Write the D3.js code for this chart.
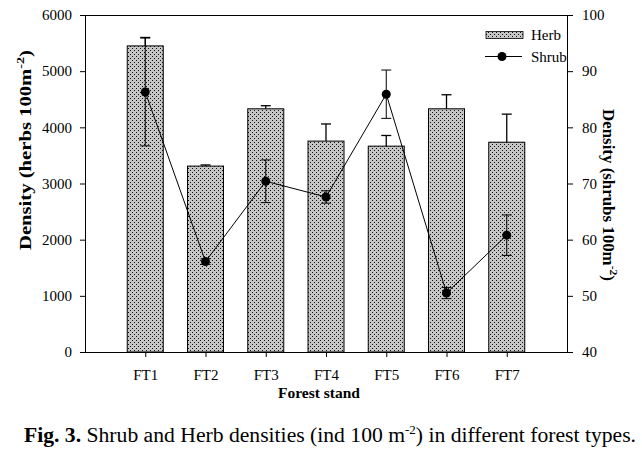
<!DOCTYPE html>
<html>
<head>
<meta charset="utf-8">
<script src="https://cdn.jsdelivr.net/npm/d3@7"></script>
<style>
  body { margin: 0; background: #fff; }
  svg { display: block; font-family: "Liberation Serif", "Times New Roman", serif; }
</style>
</head>
<body>
<svg id="chart" width="642" height="453"></svg>
<script>
// values
var stands = ["FT1", "FT2", "FT3", "FT4", "FT5", "FT6", "FT7"];
var herb = [5450, 3310, 4330, 3755, 3665, 4330, 3735];
var herbErr = [150, 20, 55, 305, 190, 250, 500];
var shrub = [86.3, 56.1, 70.4, 67.6, 85.9, 50.5, 60.8];
var shrubErr = [9.6, 0.5, 3.8, 1.1, 4.3, 1.0, 3.6];
var herbTicks = [0, 1000, 2000, 3000, 4000, 5000, 6000];
var shrubTicks = [40, 50, 60, 70, 80, 90, 100];

var data = stands.map(function (s, i) {
  return { stand: s, herb: herb[i], herbErr: herbErr[i], shrub: shrub[i], shrubErr: shrubErr[i] };
});

// plot box
var pL = 85, pR = 567, pT = 15, pB = 352;

var svg = d3.select("#chart");

var defs = svg.append("defs");
var pat = defs.append("pattern")
  .attr("id", "dots")
  .attr("patternUnits", "userSpaceOnUse")
  .attr("width", 4).attr("height", 4);
pat.append("rect").attr("width", 4).attr("height", 4).attr("fill", "#c6c6c6");
pat.append("rect").attr("x", 0).attr("y", 0).attr("width", 1).attr("height", 1).attr("fill", "#111");
pat.append("rect").attr("x", 2).attr("y", 2).attr("width", 1).attr("height", 1).attr("fill", "#111");

defs.append("clipPath").attr("id", "plotClip")
  .append("rect").attr("x", pL).attr("y", pT).attr("width", pR - pL).attr("height", pB - pT);

var x = d3.scalePoint().domain(stands).range([pL, pR]).padding(1);
var yHerb = d3.scaleLinear().domain([0, 6000]).range([pB, pT]);
var yShrub = d3.scaleLinear().domain([40, 100]).range([pB, pT]);
var barW = 36, capW = 10;

// herb error bars (upward only)
var herbErrG = svg.append("g").attr("stroke", "#000").attr("stroke-width", 1.3);
data.forEach(function (d) {
  var cx = x(d.stand), yt = yHerb(d.herb + d.herbErr);
  herbErrG.append("line").attr("x1", cx).attr("x2", cx).attr("y1", yHerb(d.herb)).attr("y2", yt);
  herbErrG.append("line").attr("x1", cx - capW / 2).attr("x2", cx + capW / 2).attr("y1", yt).attr("y2", yt);
});

// bars
svg.append("g").selectAll("rect").data(data).join("rect")
  .attr("x", function (d) { return x(d.stand) - barW / 2; })
  .attr("y", function (d) { return yHerb(d.herb); })
  .attr("width", barW)
  .attr("height", function (d) { return yHerb(0) - yHerb(d.herb); })
  .attr("fill", "url(#dots)")
  .attr("stroke", "#000")
  .attr("stroke-width", 1);

// shrub error bars
var shrubErrG = svg.append("g").attr("stroke", "#000").attr("stroke-width", 1);
data.forEach(function (d) {
  var cx = x(d.stand), y1 = yShrub(d.shrub - d.shrubErr), y2 = yShrub(d.shrub + d.shrubErr);
  shrubErrG.append("line").attr("x1", cx).attr("x2", cx).attr("y1", y1).attr("y2", y2);
  shrubErrG.append("line").attr("x1", cx - capW / 2).attr("x2", cx + capW / 2).attr("y1", y1).attr("y2", y1);
  shrubErrG.append("line").attr("x1", cx - capW / 2).attr("x2", cx + capW / 2).attr("y1", y2).attr("y2", y2);
});

// shrub line + points
var line = d3.line()
  .x(function (d) { return x(d.stand); })
  .y(function (d) { return yShrub(d.shrub); });
svg.append("path").datum(data)
  .attr("d", line).attr("fill", "none").attr("stroke", "#000").attr("stroke-width", 1);
svg.append("g").selectAll("circle").data(data).join("circle")
  .attr("cx", function (d) { return x(d.stand); })
  .attr("cy", function (d) { return yShrub(d.shrub); })
  .attr("r", 4.5).attr("fill", "#000");

// frame top
svg.append("line").attr("x1", pL).attr("x2", pR).attr("y1", pT + 0.5).attr("y2", pT + 0.5).attr("stroke", "#000");

// axes
var tickFont = function (g) {
  g.select(".domain").attr("stroke", "#000");
  g.selectAll("text").attr("font-size", 15).attr("fill", "#000").attr("font-family", "Liberation Serif, serif");
  g.selectAll(".tick line").attr("stroke", "#000");
};

svg.append("g").attr("transform", "translate(" + pL + ",0)")
  .call(d3.axisLeft(yHerb).tickValues(herbTicks).tickFormat(d3.format("d"))
    .tickSize(5).tickSizeOuter(0).tickPadding(8))
  .call(tickFont);

svg.append("g").attr("transform", "translate(" + pR + ",0)")
  .call(d3.axisRight(yShrub).tickValues(shrubTicks).tickFormat(d3.format("d"))
    .tickSize(6).tickSizeOuter(0).tickPadding(9))
  .call(tickFont);

svg.append("g").attr("transform", "translate(0," + pB + ")")
  .call(d3.axisBottom(x).tickSize(5).tickSizeOuter(0).tickPadding(12))
  .call(tickFont)
  .call(function (g) { g.select(".domain").attr("d", "M" + pL + ",0.5H" + pR); });

// axis titles
var lt = svg.append("text")
  .attr("transform", "translate(31,150) rotate(-90)")
  .attr("text-anchor", "middle").attr("font-size", 16).attr("font-weight", "bold")
  .attr("textLength", 200).attr("lengthAdjust", "spacingAndGlyphs");
lt.append("tspan").text("Density (herbs 100m");
lt.append("tspan").attr("dy", -7).attr("font-size", 11).text("-2");
lt.append("tspan").attr("dy", 7).text(")");

var rt = svg.append("text")
  .attr("transform", "translate(603,195) rotate(90)")
  .attr("text-anchor", "middle").attr("font-size", 16).attr("font-weight", "bold")
  .attr("textLength", 172).attr("lengthAdjust", "spacingAndGlyphs");
rt.append("tspan").text("Density (shrubs 100m");
rt.append("tspan").attr("dy", -7).attr("font-size", 11).text("-2");
rt.append("tspan").attr("dy", 7).text(")");

svg.append("text").attr("x", 319).attr("y", 398)
  .attr("text-anchor", "middle").attr("font-size", 15.5).attr("font-weight", "bold")
  .text("Forest stand");

// legend, clipped by the right axis like the original
var legend = svg.append("g").attr("clip-path", "url(#plotClip)");
legend.append("rect").attr("x", 486).attr("y", 31.5).attr("width", 37).attr("height", 7)
  .attr("fill", "url(#dots)").attr("stroke", "#000").attr("stroke-width", 0.8);
legend.append("text").attr("x", 531).attr("y", 40).attr("font-size", 15).text("Herb");
legend.append("line").attr("x1", 485).attr("x2", 522).attr("y1", 56.5).attr("y2", 56.5).attr("stroke", "#000");
legend.append("circle").attr("cx", 502).attr("cy", 56.5).attr("r", 4.5).attr("fill", "#000");
legend.append("text").attr("x", 531).attr("y", 62).attr("font-size", 15).text("Shrub");

// caption
var cap = svg.append("text").attr("x", 24).attr("y", 442).attr("font-size", 20)
  .attr("textLength", 612).attr("lengthAdjust", "spacingAndGlyphs");
cap.append("tspan").attr("font-weight", "bold").text("Fig. 3.");
cap.append("tspan").text(" Shrub and Herb densities (ind 100 m");
cap.append("tspan").attr("dy", -8).attr("font-size", 12).text("-2");
cap.append("tspan").attr("dy", 8).text(") in different forest types.");
</script>
</body>
</html>
